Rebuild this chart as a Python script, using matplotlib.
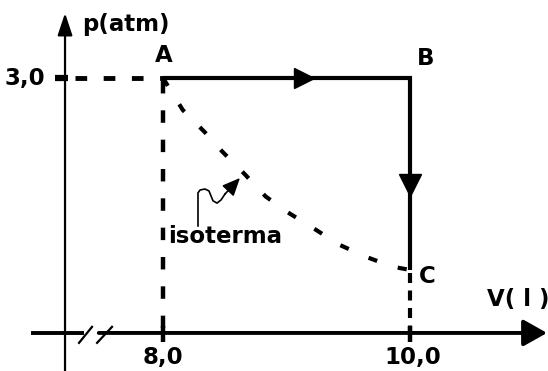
import matplotlib.pyplot as plt

# Cycle points (V in litres, p in atm)
V_A, p_A = 8.0, 3.0
V_B, p_B = 10.0, 3.0
V_C, p_C = 10.0, 2.4

# Isotherm A -> C (dashed curve)
iso_V = [8.0, 8.16, 8.34, 8.48, 8.66, 8.83, 9.01, 9.22, 9.42, 9.65, 9.86, 10.0]
iso_p = [3.0, 2.90, 2.83, 2.77, 2.70, 2.63, 2.58, 2.53, 2.48, 2.44, 2.41, 2.4]

x_ticks = [8.0, 10.0]
x_tick_labels = ["8,0", "10,0"]
y_ticks = [3.0]
y_tick_labels = ["3,0"]

# axis placement (V axis is broken, p axis drawn at V = 7.2)
V_min, V_max = 6.68, 11.117
p_min, p_max = 2.084, 3.244
V_axis = 7.2065
p_axis = 2.203

fig = plt.figure(figsize=(5.48, 3.71), dpi=100)
ax = fig.add_axes([0, 0, 1, 1])
ax.set_xlim(V_min, V_max)
ax.set_ylim(p_min, p_max)
ax.axis("off")

font = dict(family="DejaVu Sans", weight="bold", fontsize=16.5)

# p axis with arrow
ax.annotate("", xy=(V_axis, 3.203), xytext=(V_axis, p_min),
            arrowprops=dict(arrowstyle="-|>,head_length=0.9,head_width=0.3",
                            lw=1.6, color="black", mutation_scale=15,
                            shrinkA=0, shrinkB=0))

# V axis: short left piece, break, then main piece with arrow
ax.plot([6.931, 7.36], [p_axis, p_axis], color="black", lw=2.8,
        solid_capstyle="butt")
ax.annotate("", xy=(11.109, p_axis), xytext=(7.48, p_axis),
            arrowprops=dict(arrowstyle="-|>,head_length=0.8,head_width=0.45",
                            lw=2.8, color="black", mutation_scale=18,
                            shrinkA=0, shrinkB=0))
for v0, v1 in [(7.32, 7.425), (7.466, 7.587)]:
    ax.plot([v0, v1], [2.172, 2.222], color="black", lw=1.6)

# ticks
for v in x_ticks:
    ax.plot([v, v], [2.175, 2.225], color="black", lw=3.2,
            solid_capstyle="butt")
for p in y_ticks:
    ax.plot([7.126, 7.231], [p, p], color="black", lw=4.5,
            solid_capstyle="butt")

# dashed guides
ax.plot([V_axis + 0.08, V_A], [p_A, p_A], color="black", lw=3.5,
        linestyle=(0, (2.4, 3.4)), dash_capstyle="butt")
ax.plot([V_A, V_A], [p_A - 0.01, p_axis], color="black", lw=3.2,
        linestyle=(0, (2.8, 3.8)), dash_capstyle="butt")
ax.plot([V_C, V_C], [p_C - 0.01, p_axis], color="black", lw=3.0,
        linestyle=(0, (2.4, 1.8)), dash_capstyle="butt")

# isotherm
ax.plot(iso_V, iso_p, color="black", lw=3.0,
        linestyle=(0, (2.2, 5.2)), dash_capstyle="butt")

# process A -> B -> C
ax.plot([V_A, V_B, V_C], [p_A, p_B, p_C], color="black", lw=3.0,
        solid_joinstyle="miter", solid_capstyle="butt")
ax.plot(V_A + 0.57 * (V_B - V_A), p_A, marker=">", ms=14, color="black")
ax.plot(V_B, p_B + 0.557 * (p_C - p_B), marker="v", ms=16, color="black")

# pointer from the label to the isotherm
sq_V = [8.283, 8.283, 8.300, 8.340, 8.372, 8.389, 8.405, 8.437, 8.470, 8.502]
sq_p = [2.5375, 2.641, 2.650, 2.653, 2.647, 2.631, 2.616, 2.609, 2.619, 2.6375]
ax.plot(sq_V, sq_p, color="black", lw=1.2)
ax.annotate("", xy=(8.623, 2.6875), xytext=(sq_V[-1], sq_p[-1]),
            arrowprops=dict(arrowstyle="-|>,head_length=0.9,head_width=0.4",
                            lw=1.2, color="black", mutation_scale=12,
                            shrinkA=0, shrinkB=0))

# labels
ax.text(7.344, 3.166, "p(atm)", ha="left", va="center", **font)
ax.text(V_axis - 0.16, p_A, y_tick_labels[0], ha="right", va="center", **font)
for v, lab in zip(x_ticks, x_tick_labels):
    ax.text(v + 0.012 * (v - 8.0), 2.125, lab, ha="center", va="center", **font)
ax.text(10.874, 2.306, "V( l )", ha="center", va="center", **font)
ax.text(8.008, 3.072, "A", ha="center", va="center", **font)
ax.text(10.13, 3.0625, "B", ha="center", va="center", **font)
ax.text(10.138, 2.378, "C", ha="center", va="center", **font)
ax.text(8.04, 2.503, "isoterma", ha="left", va="center", **font)

fig.savefig("out.png", dpi=100)
